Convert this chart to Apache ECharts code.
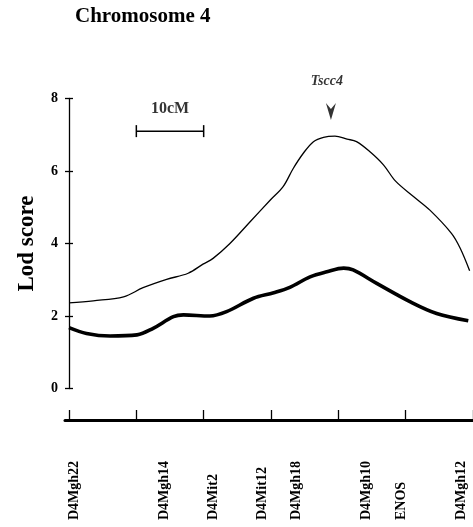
<!DOCTYPE html>
<html>
<head>
<meta charset="utf-8">
<script src="https://cdn.jsdelivr.net/npm/echarts@6/dist/echarts.min.js"></script>
<style>
html,body{margin:0;padding:0;background:#fff;}
#c{width:473px;height:527px;}
</style>
</head>
<body>
<div id="c"></div>
<script>
// Thin curve (upper LOD profile): [cM, LOD]
const thinCurve = [
  [0.0, 2.36], [3.6, 2.42], [8.1, 2.53], [11.0, 2.78], [14.5, 3.01],
  [17.7, 3.18], [19.9, 3.43], [21.4, 3.59], [23.9, 4.0], [26.9, 4.6],
  [29.9, 5.2], [31.8, 5.57], [33.3, 6.07], [34.8, 6.49], [36.3, 6.81],
  [37.8, 6.93], [39.5, 6.96], [41.3, 6.88], [42.7, 6.81], [44.7, 6.53],
  [46.7, 6.17], [48.5, 5.72], [51.2, 5.29], [53.6, 4.92], [56.8, 4.28],
  [58.1, 3.87], [59.5, 3.25]
];
// Thick curve (lower LOD profile): [cM, LOD]
const thickCurve = [
  [0.0, 1.68], [2.6, 1.52], [6.1, 1.45], [10.1, 1.48], [12.5, 1.66],
  [15.5, 1.98], [17.0, 2.03], [20.9, 2.0], [23.4, 2.12], [27.4, 2.49],
  [30.4, 2.64], [32.8, 2.79], [35.8, 3.08], [38.3, 3.22], [40.8, 3.32],
  [42.2, 3.27], [45.7, 2.90], [50.7, 2.39], [54.6, 2.07], [59.3, 1.87]
];
// Markers along the chromosome
const markerNames = ['D4Mgh22', 'D4Mgh14', 'D4Mit2', 'D4Mit12', 'D4Mgh18', 'D4Mgh10', 'ENOS', 'D4Mgh12'];
const markerPos   = [0.8, 14.1, 21.5, 28.7, 33.7, 44.1, 49.3, 58.3];
// Axes ticks
const yTicks = [0, 2, 4, 6, 8];
const cmTicks = [0, 10, 20, 30, 40, 50, 60];
// Annotations
const scaleBar = [[10, 7.10], [20, 7.10]];
const scaleBarLabel = [[15, 7.72]];
const locusArrow = [[38.9, 7.64]];
const locusLabel = [[38.3, 8.48]];

const serif = '"Liberation Serif","DejaVu Serif",serif';
const chart = echarts.init(document.getElementById('c'), null, {renderer: 'canvas'});
const markerMap = {};
markerPos.forEach((p, i) => { markerMap[p] = markerNames[i]; });

chart.setOption({
  animation: false,
  backgroundColor: '#fff',
  title: {
    text: 'Chromosome 4', left: 75, top: 6, padding: 0,
    textStyle: {fontFamily: serif, fontWeight: 'bold', fontSize: 21, color: '#000'}
  },
  grid: [
    {left: 69, top: 98.5, width: 404, height: 290},
    {left: 65, top: 419, width: 408, height: 1}
  ],
  xAxis: [
    {gridIndex: 0, type: 'value', min: 0, max: 60, show: false},
    {gridIndex: 1, type: 'value', min: -0.6, max: 60, position: 'bottom',
     axisLine: {show: true, onZero: false, lineStyle: {color: '#000', width: 3}},
     axisTick: {show: true, inside: true, length: 10, customValues: cmTicks, lineStyle: {color: '#000', width: 1.3}},
     splitLine: {show: false},
     axisLabel: {
       show: true, customValues: markerPos, rotate: 90, margin: 100, align: 'left',
       verticalAlign: 'middle',
       formatter: v => markerMap[v] || '',
       fontFamily: serif, fontWeight: 'bold', fontSize: 14, color: '#000'
     }}
  ],
  yAxis: [
    {gridIndex: 0, type: 'value', min: 0, max: 8, interval: 2,
     name: 'Lod score', nameLocation: 'middle', nameGap: 30,
     nameTextStyle: {fontFamily: serif, fontWeight: 'bold', fontSize: 23, color: '#000'},
     axisLine: {show: true, lineStyle: {color: '#000', width: 1.3}},
     axisTick: {show: true, inside: false, length: 4, customValues: yTicks, lineStyle: {color: '#000', width: 1.3}},
     splitLine: {show: false},
     axisLabel: {margin: 11, fontFamily: serif, fontWeight: 'bold', fontSize: 14, color: '#000'}},
    {gridIndex: 0, type: 'value', min: 0, max: 8, interval: 2, position: 'left',
     axisLine: {show: false},
     axisTick: {show: true, inside: true, length: 4, lineStyle: {color: '#000', width: 1.3}},
     axisLabel: {show: false}, splitLine: {show: false}},
    {gridIndex: 1, type: 'value', min: 0, max: 1, show: false}
  ],
  series: [
    {type: 'line', xAxisIndex: 0, yAxisIndex: 0, data: thinCurve, smooth: 0.35,
     showSymbol: false, lineStyle: {color: '#000', width: 1.3}},
    {type: 'line', xAxisIndex: 0, yAxisIndex: 0, data: thickCurve, smooth: 0.35,
     showSymbol: false, lineStyle: {color: '#000', width: 3.6}},
    {type: 'line', xAxisIndex: 0, yAxisIndex: 0, data: scaleBar,
     symbol: 'rect', symbolSize: [1.5, 12], showSymbol: true,
     itemStyle: {color: '#000'}, lineStyle: {color: '#000', width: 1.5}},
    {type: 'scatter', xAxisIndex: 0, yAxisIndex: 0, data: scaleBarLabel, symbolSize: 1,
     itemStyle: {color: 'rgba(0,0,0,0)'}, clip: false,
     label: {show: true, position: 'inside', formatter: '10cM',
             fontFamily: serif, fontWeight: 'bold', fontSize: 16, color: '#000'}},
    {type: 'scatter', xAxisIndex: 0, yAxisIndex: 0, data: locusArrow, clip: false,
     symbol: 'path://M0,0 L5,6 L10,0 L5,17 Z', symbolSize: [10, 17],
     itemStyle: {color: '#000'}},
    {type: 'scatter', xAxisIndex: 0, yAxisIndex: 0, data: locusLabel, symbolSize: 1, clip: false,
     itemStyle: {color: 'rgba(0,0,0,0)'},
     label: {show: true, position: 'inside', formatter: 'Tscc4',
             fontFamily: serif, fontWeight: 'bold', fontStyle: 'italic', fontSize: 14, color: '#000'}}
  ]
});
</script>
</body>
</html>
